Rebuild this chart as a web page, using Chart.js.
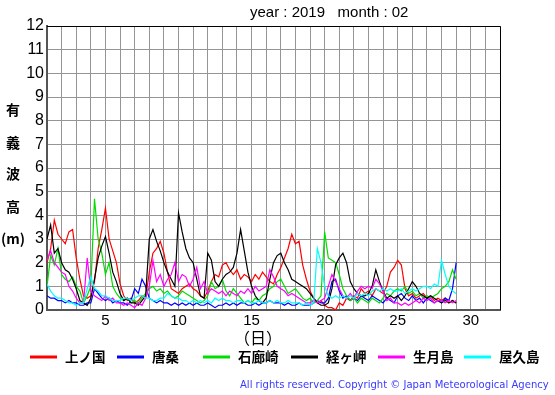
<!DOCTYPE html>
<html>
<head>
<meta charset="utf-8">
<script src="https://cdn.jsdelivr.net/npm/chart.js@4"></script>
<style>
  html, body { margin: 0; padding: 0; background: #fff; }
  #wrap { width: 555px; height: 395px; position: relative; }
</style>
</head>
<body>
<div id="wrap"><canvas id="wave"></canvas></div>
<script>
// 6-hourly values, day 1.00 .. 29.00 (4 per day)
var startDay = 1;
var stepDay = 0.25;

var stations = ['上ノ国', '唐桑', '石廊崎', '経ヶ岬', '生月島', '屋久島'];
var colors = ['#ff0000', '#0000ff', '#00dd00', '#000000', '#ff00ff', '#00ffff'];

var kaminokuni = [
    2.0, 2.6, 3.8, 3.2,  3.0, 2.8, 3.3, 3.4,  2.2, 1.3, 0.6, 0.5,  0.6, 1.2, 2.6, 3.4,
    4.3, 3.0, 2.5, 2.0,  1.1, 0.6, 0.4, 0.5,  0.3, 0.4, 0.6, 0.5,  1.6, 2.4, 2.6, 2.9,
    2.4, 1.6, 0.9, 0.8,  0.7, 0.9, 1.0, 1.1,  0.9, 0.8, 0.6, 0.5,  0.8, 1.2, 1.5, 1.4,
    1.9, 2.0, 1.7, 1.5,  1.7, 1.3, 1.5, 1.4,  1.2, 1.5, 1.3, 1.6,  1.4, 1.2, 1.1, 1.5,
    1.8, 2.2, 2.6, 3.2,  2.8, 2.9, 1.9, 1.3,  0.8, 0.5, 0.3, 0.4,  0.2, 0.1, 0.1, 0.0,
    0.3, 0.2, 0.5, 0.4,  0.6, 0.5, 0.9, 0.7,  0.8, 0.6, 0.9, 0.8,  0.7, 1.0, 1.6, 1.8,
    2.1, 1.9, 0.9, 0.6,  0.7, 0.5, 0.6, 0.7,  0.5, 0.6, 0.4, 0.5,  0.4, 0.5, 0.3, 0.4,
    0.3
];
var karakuwa = [
    0.6, 0.5, 0.5, 0.4,  0.4, 0.3, 0.4, 0.3,  0.3, 0.2, 0.2, 0.3,  0.3, 0.9, 0.7, 0.5,
    0.4, 0.5, 0.3, 0.4,  0.3, 0.3, 0.2, 0.4,  0.9, 0.7, 1.3, 1.0,  0.5, 0.4, 0.3, 0.4,
    0.3, 0.3, 0.2, 0.3,  0.2, 0.3, 0.2, 0.3,  0.2, 0.3, 0.2, 0.2,  0.3, 0.2, 0.1, 0.2,
    0.2, 0.3, 0.2, 0.3,  0.2, 0.3, 0.3, 0.2,  0.2, 0.3, 0.2, 0.3,  0.3, 0.4, 0.3, 0.3,
    0.3, 0.2, 0.3, 0.2,  0.2, 0.3, 0.2, 0.2,  0.2, 0.3, 0.4, 0.3,  0.3, 0.5, 1.2, 1.3,
    0.8, 0.5, 0.6, 0.4,  0.5, 0.4, 0.6, 0.5,  0.4, 0.6, 0.5, 0.4,  0.3, 0.5, 0.4, 0.3,
    0.6, 0.7, 0.5, 0.4,  0.6, 0.4, 0.5, 0.3,  0.5, 0.4, 0.3, 0.4,  0.3, 0.5, 0.4, 0.9,
    2.0
];
var irozaki = [
    1.0, 2.3, 1.9, 2.6,  1.5, 1.3, 1.2, 1.4,  1.0, 0.8, 0.3, 0.6,  1.0, 4.7, 3.0, 2.4,
    1.5, 2.0, 1.0, 0.7,  0.5, 0.4, 0.5, 0.3,  0.4, 0.3, 0.5, 0.7,  0.9, 1.0, 0.8, 0.9,
    0.7, 0.8, 0.6, 0.5,  0.6, 0.8, 0.7, 0.6,  0.5, 0.4, 0.3, 0.4,  0.6, 1.2, 0.9, 1.0,
    1.3, 0.8, 0.6, 0.9,  0.7, 0.5, 0.3, 0.4,  0.3, 0.5, 0.4, 0.6,  0.7, 0.9, 1.0, 1.2,
    1.3, 1.0, 0.7, 0.8,  0.9, 0.7, 0.5, 0.4,  0.5, 0.3, 0.4, 0.6,  3.3, 2.2, 2.1, 2.0,
    1.5, 0.9, 0.6, 0.4,  0.5, 0.3, 0.5, 0.4,  0.3, 0.5, 0.4, 0.3,  0.5, 0.7, 0.6, 0.8,
    0.9, 0.8, 1.0, 0.7,  0.8, 0.6, 0.7, 0.5,  0.6, 0.5, 0.6, 0.7,  0.9, 1.0, 1.2, 1.7,
    1.3
];
var kyogamisaki = [
    3.0, 3.6, 2.4, 2.6,  2.0, 1.7, 1.6, 1.3,  0.9, 0.4, 0.3, 0.2,  0.5, 1.3, 2.2, 2.7,
    3.1, 2.4, 1.6, 1.2,  0.7, 0.4, 0.5, 0.3,  0.3, 0.2, 0.4, 0.6,  3.0, 3.4, 2.9, 2.5,
    2.0, 1.6, 1.3, 1.0,  4.1, 3.3, 2.6, 2.2,  2.0, 1.3, 0.6, 0.5,  2.4, 2.1, 1.2, 1.0,
    1.3, 1.5, 1.6, 1.8,  2.4, 3.4, 2.5, 1.6,  1.0, 0.6, 0.4, 0.3,  0.5, 1.3, 2.0, 2.3,
    2.4, 2.0, 1.7, 1.3,  1.2, 1.1, 1.0, 0.9,  0.7, 0.5, 0.3, 0.2,  0.2, 0.3, 0.9, 1.9,
    2.2, 2.4, 2.0, 1.2,  0.9, 0.7, 0.6, 0.6,  0.7, 1.0, 1.7, 1.2,  0.8, 0.5, 0.6, 0.5,
    0.6, 0.4, 0.6, 0.9,  1.2, 1.0, 0.7, 0.6,  0.5, 0.6, 0.5, 0.4,  0.3, 0.4, 0.3, 0.4,
    0.3
];
var ikitsukishima = [
    2.1, 2.5, 2.0, 1.8,  1.6, 1.5, 1.0, 0.8,  0.5, 0.3, 0.3, 2.2,  0.8, 0.6, 0.5, 0.4,
    0.6, 0.4, 0.5, 0.3,  0.3, 0.2, 0.3, 0.2,  0.1, 0.3, 0.2, 0.5,  1.0, 2.1, 1.2, 1.5,
    1.0, 1.3, 1.5, 2.0,  1.2, 1.5, 1.4, 1.0,  1.3, 1.8, 0.9, 1.2,  0.7, 0.9, 0.8, 0.7,
    0.8, 0.6, 0.8, 0.7,  0.6, 0.8, 0.7, 0.9,  0.7, 1.0, 0.8, 0.9,  1.0, 1.7, 1.4, 1.0,
    0.9, 0.8, 0.6, 0.7,  0.6, 0.5, 0.4, 0.3,  0.3, 0.4, 0.3, 0.4,  0.5, 1.0, 1.5, 1.2,
    0.9, 0.6, 0.5, 0.7,  0.5, 0.8, 1.0, 0.9,  1.0, 0.9, 1.3, 1.1,  0.8, 0.4, 0.5, 0.3,
    0.3, 0.2, 0.3, 0.2,  0.3, 0.4, 0.3, 0.5,  0.4, 0.5, 0.3, 0.4,  0.4, 0.3, 0.4, 0.3,
    0.4
];
var yakushima = [
    1.1, 0.8, 0.6, 0.5,  0.5, 0.4, 0.3, 0.3,  0.2, 0.3, 0.3, 0.9,  1.4, 0.9, 0.8, 0.6,
    0.6, 0.5, 0.4, 0.4,  0.4, 0.5, 0.5, 0.4,  0.5, 0.6, 0.6, 0.5,  0.5, 0.4, 0.4, 0.5,
    0.5, 0.7, 0.6, 0.5,  0.5, 0.4, 0.4, 0.3,  0.4, 0.3, 0.4, 0.3,  0.4, 0.3, 0.5, 0.4,
    0.5, 0.4, 0.4, 0.3,  0.4, 0.4, 0.3, 0.4,  0.3, 0.3, 0.4, 0.3,  0.3, 0.4, 0.3, 0.4,
    0.3, 0.3, 0.4, 0.3,  0.3, 0.3, 0.2, 0.3,  0.2, 0.3, 2.6, 2.0,  1.0, 0.6, 0.5, 0.6,
    0.5, 0.6, 0.5, 0.6,  0.5, 0.7, 0.6, 0.7,  0.6, 0.8, 0.9, 0.8,  0.9, 0.8, 0.9, 0.8,
    0.8, 0.9, 0.7, 0.8,  0.9, 0.8, 0.9, 1.0,  1.0, 0.9, 1.1, 1.0,  2.1, 1.5, 1.0, 0.8,
    0.7
];

var series = [kaminokuni, karakuwa, irozaki, kyogamisaki, ikitsukishima, yakushima];

function toPoints(values) {
    return values.map(function(v, i) {
        return { x: startDay + i * stepDay, y: v };
    });
}

// extra texts: title, y label, x unit, legend, copyright
var decorPlugin = {
    id: 'decor',
    afterDraw: function(chart) {
        var ctx = chart.ctx;
        var area = chart.chartArea;
        ctx.save();

        // top / right frame
        ctx.strokeStyle = '#000';
        ctx.lineWidth = 1;
        ctx.beginPath();
        ctx.moveTo(area.left, area.top + 0.5);
        ctx.lineTo(area.right + 0.5, area.top + 0.5);
        ctx.lineTo(area.right + 0.5, area.bottom);
        ctx.stroke();

        ctx.fillStyle = '#000';
        ctx.textBaseline = 'middle';

        // title
        ctx.font = '15px "Liberation Sans", Arial, sans-serif';
        ctx.textAlign = 'left';
        ctx.fillText('year : 2019   month : 02', 250, 13);

        // y axis label
        ctx.font = 'bold 14px "Noto Sans CJK JP", sans-serif';
        ctx.textAlign = 'center';
        var yl = ['有', '義', '波', '高'];
        var yp = [110, 143, 174, 207];
        yl.forEach(function(c, i) { ctx.fillText(c, 13, yp[i]); });
        ctx.fillText('(m)', 13, 239);

        // x unit
        ctx.font = '16px "Noto Sans CJK JP", sans-serif';
        ctx.fillText('（日）', 258, 338);

        // legend
        var lineX = [30, 117, 203, 291, 378, 464];
        ctx.font = 'bold 13.5px "Noto Sans CJK JP", sans-serif';
        ctx.textAlign = 'left';
        stations.forEach(function(name, i) {
            ctx.strokeStyle = colors[i];
            ctx.lineWidth = 3;
            ctx.beginPath();
            ctx.moveTo(lineX[i], 357);
            ctx.lineTo(lineX[i] + 27, 357);
            ctx.stroke();
            ctx.fillText(name, lineX[i] + 35, 357);
        });

        // copyright
        var copy = 'All rights reserved. Copyright \u00a9 Japan Meteorological Agency';
        ctx.fillStyle = '#3838ff';
        ctx.font = '10px "DejaVu Sans", sans-serif';
        var w = ctx.measureText(copy).width;
        var size = 10 * 309 / w;
        ctx.font = size.toFixed(2) + 'px "DejaVu Sans", sans-serif';
        ctx.fillText(copy, 240, 385);

        ctx.restore();
    }
};

var ctx = document.getElementById('wave');
new Chart(ctx, {
    type: 'line',
    data: {
        datasets: series.map(function(vals, i) {
            return {
                label: stations[i],
                data: toPoints(vals),
                borderColor: colors[i],
                borderWidth: 1.2,
                pointRadius: 0,
                tension: 0,
                fill: false,
                order: series.length - i
            };
        })
    },
    options: {
        responsive: true,
        maintainAspectRatio: false,
        animation: false,
        devicePixelRatio: 1,
        layout: {
            padding: { left: 0, right: 55, top: 26, bottom: 0 }
        },
        plugins: {
            legend: { display: false },
            tooltip: { enabled: false }
        },
        scales: {
            x: {
                type: 'linear',
                min: 1,
                max: 32,
                afterFit: function(scale) { scale.height = 85; },
                grid: { color: '#959595', lineWidth: 1, drawTicks: false },
                border: { color: '#555', width: 2 },
                ticks: {
                    stepSize: 1,
                    autoSkip: false,
                    maxRotation: 0,
                    padding: 2,
                    color: '#000',
                    font: { family: '"Liberation Sans", Arial, sans-serif', size: 15 },
                    callback: function(v) { return v % 5 === 0 ? String(v) : ''; }
                }
            },
            y: {
                min: 0,
                max: 12,
                afterFit: function(scale) { scale.width = 47; },
                grid: { color: '#959595', lineWidth: 1, drawTicks: false },
                border: { color: '#555', width: 2 },
                ticks: {
                    stepSize: 1,
                    padding: 3,
                    color: '#000',
                    font: { family: '"Liberation Sans", Arial, sans-serif', size: 16 }
                }
            }
        }
    },
    plugins: [decorPlugin]
});
</script>
</body>
</html>
